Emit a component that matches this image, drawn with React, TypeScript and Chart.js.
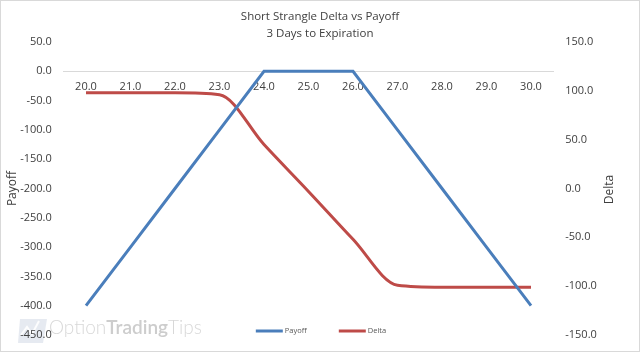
import { useEffect, useRef } from "react";
import { Chart, registerables } from "chart.js";

Chart.register(...registerables);

const strikes = [20, 21, 22, 23, 24, 25, 26, 27, 28, 29, 30];
const xLabels = strikes.map((s) => s.toFixed(1));
const payoff = [-400, -300, -200, -100, 0, 0, 0, -100, -200, -300, -400];
const delta = [98, 98, 98, 96, 45, -3, -52, -99, -101, -101, -101];
const titleLines = ["Short Strangle Delta vs Payoff", "3 Days to Expiration"];
const payoffAxis = { title: "Payoff", min: -450, max: 50, step: 50 };
const deltaAxis = { title: "Delta", min: -150, max: 150, step: 50 };
const watermark = ["Option", "Trading", "Tips"];

const FONT = "'Open Sans', 'Noto Sans', sans-serif";
const TEXT = "#404040";
const BLUE = "#4a7ebb";
const RED = "#be4b48";

const overlayPlugin = {
  id: "overlay",
  beforeDraw(chart: any) {
    const ctx = chart.ctx;
    ctx.save();
    // watermark icon
    ctx.fillStyle = "rgba(200,208,225,0.45)";
    ctx.beginPath();
    ctx.moveTo(19, 318);
    ctx.lineTo(46, 318);
    ctx.lineTo(42, 342);
    ctx.lineTo(17, 342);
    ctx.closePath();
    ctx.fill();
    ctx.strokeStyle = "rgba(255,255,255,0.9)";
    ctx.lineWidth = 2;
    ctx.beginPath();
    ctx.moveTo(20, 334);
    ctx.lineTo(26, 326);
    ctx.lineTo(31, 333);
    ctx.lineTo(38, 320);
    ctx.stroke();
    // watermark text
    ctx.textBaseline = "alphabetic";
    ctx.textAlign = "left";
    let x = 48;
    const y = 333;
    watermark.forEach((w, i) => {
      const bold = i === 1;
      ctx.font = `${bold ? 600 : 300} 19px Lato, ${FONT}`;
      ctx.fillStyle = bold ? "#cdcdcd" : "#d8d8d8";
      ctx.fillText(w, x, y);
      x += ctx.measureText(w).width;
    });
    ctx.restore();
  },
  afterDraw(chart: any) {
    const ctx = chart.ctx;
    const area = chart.chartArea;
    ctx.save();
    // right axis title, rotated bottom-to-top
    ctx.font = `12px ${FONT}`;
    ctx.fillStyle = TEXT;
    ctx.textAlign = "center";
    ctx.textBaseline = "middle";
    ctx.translate(609, (area.top + area.bottom) / 2 + 1);
    ctx.rotate(-Math.PI / 2);
    ctx.fillText(deltaAxis.title, 0, 0);
    ctx.restore();

    // legend
    ctx.save();
    ctx.font = `7.5px ${FONT}`;
    ctx.textBaseline = "middle";
    ctx.textAlign = "left";
    const ds = chart.data.datasets;
    const lineW = 27;
    const gapText = 2;
    const gapItem = 32;
    const widths = ds.map((d: any) => lineW + gapText + ctx.measureText(d.label).width);
    const total = widths.reduce((a: number, b: number) => a + b, 0) + gapItem * (ds.length - 1);
    let x = chart.width / 2 + 1 - total / 2;
    const y = 330;
    ds.forEach((d: any, i: number) => {
      ctx.strokeStyle = d.borderColor;
      ctx.lineWidth = 3;
      ctx.beginPath();
      ctx.moveTo(x, y);
      ctx.lineTo(x + lineW, y);
      ctx.stroke();
      ctx.fillStyle = "#595959";
      ctx.fillText(d.label, x + lineW + gapText, y);
      x += widths[i] + gapItem;
    });
    ctx.restore();
  },
};

export default function App() {
  const ref = useRef<HTMLCanvasElement | null>(null);

  useEffect(() => {
    document.body.style.margin = "0";
    if (!ref.current) return;
    const chart = new Chart(ref.current, {
      type: "line",
      data: {
        labels: xLabels,
        datasets: [
          {
            label: "Payoff",
            data: payoff,
            borderColor: BLUE,
            backgroundColor: BLUE,
            borderWidth: 3,
            pointRadius: 0,
            tension: 0,
            yAxisID: "y",
          },
          {
            label: "Delta",
            data: delta,
            borderColor: RED,
            backgroundColor: RED,
            borderWidth: 3,
            pointRadius: 0,
            cubicInterpolationMode: "monotone",
            yAxisID: "y1",
          },
        ],
      },
      options: {
        responsive: false,
        animation: false,
        layout: { padding: { left: 0, right: 0, top: 0, bottom: 16 } },
        plugins: {
          legend: { display: false },
          tooltip: { enabled: false },
          title: {
            display: true,
            text: titleLines,
            color: TEXT,
            font: { family: FONT, size: 11.5, weight: "normal", lineHeight: 17 / 11.5 },
            padding: { top: 7, bottom: 0 },
          },
        },
        scales: {
          x: {
            type: "category",
            offset: true,
            position: { y: 0 } as any,
            grid: { display: false, drawTicks: false },
            border: { display: true, color: "#d9d9d9", width: 1 },
            ticks: {
              color: TEXT,
              font: { family: FONT, size: 11 },
              padding: 9,
              maxRotation: 0,
              autoSkip: false,
            },
            afterFit(scale: any) {
              scale.height = 0;
            },
          },
          y: {
            position: "left",
            min: payoffAxis.min,
            max: payoffAxis.max,
            grid: { display: false, drawTicks: false },
            border: { display: false },
            ticks: {
              stepSize: payoffAxis.step,
              color: TEXT,
              font: { family: FONT, size: 11 },
              padding: 12,
              callback: (v: any) => Number(v).toFixed(1),
            },
            title: {
              display: true,
              text: payoffAxis.title,
              color: TEXT,
              font: { family: FONT, size: 12 },
              padding: { top: 4, bottom: 4 },
            },
            afterFit(scale: any) {
              scale.width = 62.75;
              scale.paddingTop = 0;
              scale.paddingBottom = 0;
            },
          },
          y1: {
            position: "right",
            min: deltaAxis.min,
            max: deltaAxis.max,
            grid: { display: false, drawTicks: false },
            border: { display: false },
            ticks: {
              stepSize: deltaAxis.step,
              color: TEXT,
              font: { family: FONT, size: 11 },
              padding: 12,
              callback: (v: any) => Number(v).toFixed(1),
            },
            afterFit(scale: any) {
              scale.width = 85.75;
              scale.paddingTop = 0;
              scale.paddingBottom = 0;
            },
          },
        },
      },
      plugins: [overlayPlugin],
    });
    return () => chart.destroy();
  }, []);

  return (
    <div
      style={{
        width: 640,
        height: 352,
        boxSizing: "border-box",
        border: "1px solid #d9d9d9",
        background: "#fff",
      }}
    >
      <canvas ref={ref} width={638} height={350} style={{ display: "block" }} />
    </div>
  );
}
